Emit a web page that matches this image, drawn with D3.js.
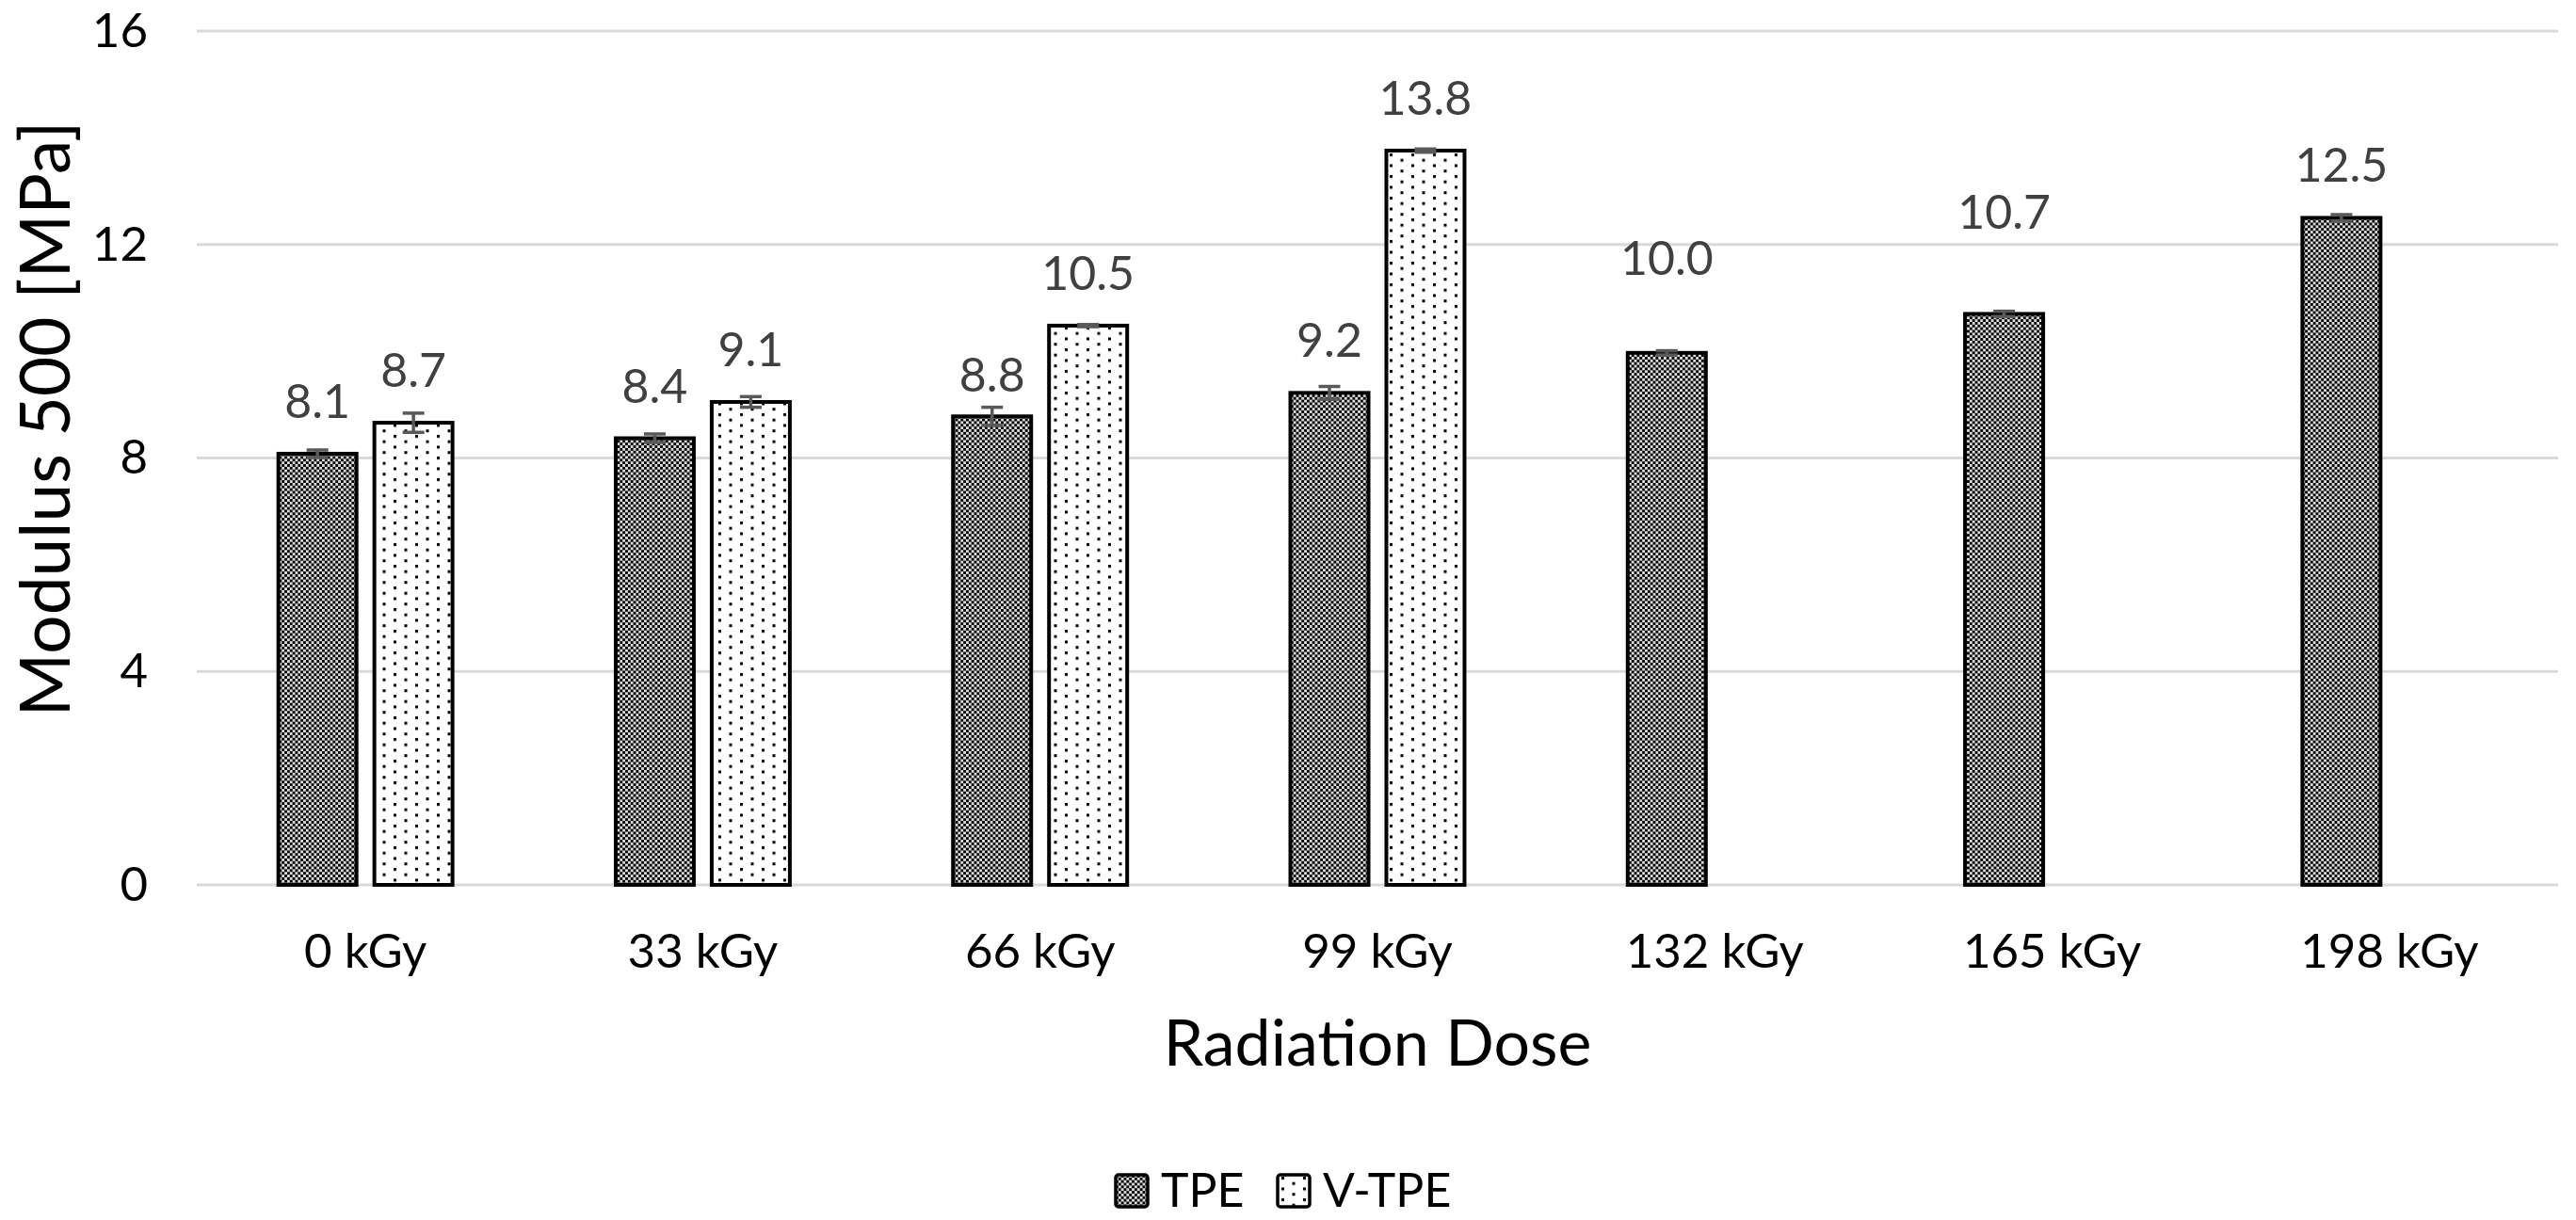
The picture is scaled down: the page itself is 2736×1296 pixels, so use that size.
<!DOCTYPE html>
<html>
<head>
<meta charset="utf-8">
<script src="https://cdn.jsdelivr.net/npm/d3@7"></script>
<style>
  body { margin: 0; background: #fff; }
  text { font-family: Lato, "Open Sans", sans-serif; }
</style>
</head>
<body>
<script>
// chart data
var doses = ["0 kGy", "33 kGy", "66 kGy", "99 kGy", "132 kGy", "165 kGy", "198 kGy"];
var seriesNames = ["TPE", "V-TPE"];
var tpeValues = [8.08, 8.37, 8.78, 9.22, 9.97, 10.70, 12.50];
var tpeErrors = [0.07, 0.08, 0.17, 0.12, 0.04, 0.05, 0.06];
var vtpeValues = [8.66, 9.05, 10.48, 13.76];
var vtpeErrors = [0.18, 0.10, 0.02, 0.03];
var yTicks = [0, 4, 8, 12, 16];

var W = 2736, H = 1296;
// note: "top" is taken by window.top, so plot* names
var plotLeft = 209, plotRight = 2717, plotTop = 33, plotBottom = 940;

// a few data labels were dragged by hand in the original, extra lift in px
var labelNudge = { "TPE|66 kGy": -12, "TPE|132 kGy": 45, "TPE|165 kGy": 52 };

var svg = d3.select("body").append("svg")
  .attr("width", W)
  .attr("height", H);

// hatch patterns (like excel's 50% and 10% fills)
var defs = svg.append("defs");
var chk = defs.append("pattern")
  .attr("id", "checker")
  .attr("patternUnits", "userSpaceOnUse")
  .attr("width", 5.7).attr("height", 5.7);
chk.append("rect").attr("width", 5.7).attr("height", 5.7).attr("fill", "#dcdcdc");
chk.append("rect").attr("width", 2.85).attr("height", 2.85).attr("fill", "#000");
chk.append("rect").attr("x", 2.85).attr("y", 2.85).attr("width", 2.85).attr("height", 2.85).attr("fill", "#000");

var dots = defs.append("pattern")
  .attr("id", "dots")
  .attr("patternUnits", "userSpaceOnUse")
  .attr("width", 23).attr("height", 11.5);
dots.append("rect").attr("width", 23).attr("height", 11.5).attr("fill", "#fff");
dots.append("rect").attr("x", 4).attr("y", 2).attr("width", 3).attr("height", 3).attr("fill", "#000");
dots.append("rect").attr("x", 15.5).attr("y", 7.75).attr("width", 3).attr("height", 3).attr("fill", "#000");

var fills = { "TPE": "url(#checker)", "V-TPE": "url(#dots)" };

var x0 = d3.scaleBand().domain(doses).range([plotLeft, plotRight]);
var x1 = d3.scaleBand().domain(seriesNames).range([0, x0.bandwidth()])
  .paddingInner(0.186).paddingOuter(0.85);
var y = d3.scaleLinear().domain([0, 16]).range([plotBottom, plotTop]);

// gridlines
svg.append("g").selectAll("line")
  .data(yTicks)
  .enter().append("line")
  .attr("x1", plotLeft).attr("x2", plotRight)
  .attr("y1", function(d) { return y(d); })
  .attr("y2", function(d) { return y(d); })
  .attr("stroke", "#d9d9d9")
  .attr("stroke-width", 3);

// y axis (no line, just labels)
var yAxis = svg.append("g")
  .attr("transform", "translate(" + (plotLeft - 52) + ",0)")
  .call(d3.axisLeft(y).tickValues(yTicks).tickSize(0).tickPadding(0));
yAxis.select(".domain").remove();
yAxis.selectAll("text")
  .attr("font-size", 51)
  .attr("fill", "#000")
  .attr("font-family", "Lato");

// x axis labels
var xAxis = svg.append("g")
  .attr("transform", "translate(0," + plotBottom + ")")
  .call(d3.axisBottom(x0).tickSize(0).tickPadding(52));
xAxis.select(".domain").remove();
xAxis.selectAll("text")
  .attr("font-size", 51)
  .attr("fill", "#000")
  .attr("font-family", "Lato");

// flatten to one row per bar
var rows = [];
doses.forEach(function(d, i) {
  rows.push({ dose: d, s: "TPE", v: tpeValues[i], e: tpeErrors[i] });
  if (i < vtpeValues.length) rows.push({ dose: d, s: "V-TPE", v: vtpeValues[i], e: vtpeErrors[i] });
});

function bx(d) { return x0(d.dose) + x1(d.s); }

svg.append("g").selectAll("rect")
  .data(rows)
  .enter().append("rect")
  .attr("x", bx)
  .attr("y", function(d) { return y(d.v); })
  .attr("width", x1.bandwidth())
  .attr("height", function(d) { return y(0) - y(d.v); })
  .attr("fill", function(d) { return fills[d.s]; })
  .attr("stroke", "#000")
  .attr("stroke-width", 4);

// error bars
var eb = svg.append("g").attr("stroke", "#595959").attr("stroke-width", 3.5);
rows.forEach(function(d) {
  var cx = bx(d) + x1.bandwidth() / 2;
  eb.append("line").attr("x1", cx).attr("x2", cx)
    .attr("y1", y(d.v + d.e)).attr("y2", y(d.v - d.e));
  eb.append("line").attr("x1", cx - 11.5).attr("x2", cx + 11.5)
    .attr("y1", y(d.v + d.e)).attr("y2", y(d.v + d.e));
  eb.append("line").attr("x1", cx - 11.5).attr("x2", cx + 11.5)
    .attr("y1", y(d.v - d.e)).attr("y2", y(d.v - d.e));
});

// value labels
svg.append("g").selectAll("text")
  .data(rows)
  .enter().append("text")
  .attr("x", function(d) { return bx(d) + x1.bandwidth() / 2; })
  .attr("y", function(d) {
    var nudge = labelNudge[d.s + "|" + d.dose] || 0;
    return y(d.v) - 38 - nudge;
  })
  .attr("text-anchor", "middle")
  .attr("font-size", 50)
  .attr("fill", "#404040")
  .text(function(d) { return d.v.toFixed(1); });

// axis titles
svg.append("text")
  .attr("x", (plotLeft + plotRight) / 2)
  .attr("y", 1132)
  .attr("text-anchor", "middle")
  .attr("font-size", 68)
  .attr("fill", "#000")
  .text("Radiation Dose");

svg.append("text")
  .attr("transform", "translate(74,445) rotate(-90)")
  .attr("text-anchor", "middle")
  .attr("font-size", 73)
  .attr("fill", "#000")
  .text("Modulus 500 [MPa]");

// legend
var legX = [1185, 1357];
var leg = svg.append("g").selectAll("g")
  .data(seriesNames)
  .enter().append("g")
  .attr("transform", function(d, i) { return "translate(" + legX[i] + ",1248)"; });
leg.append("rect")
  .attr("width", 34).attr("height", 34).attr("rx", 3)
  .attr("fill", function(d) { return fills[d]; })
  .attr("stroke", "#000").attr("stroke-width", 3.5);
leg.append("text")
  .attr("x", 48).attr("y", 34)
  .attr("font-size", 50)
  .attr("fill", "#000")
  .text(function(d) { return d; });
</script>
</body>
</html>
